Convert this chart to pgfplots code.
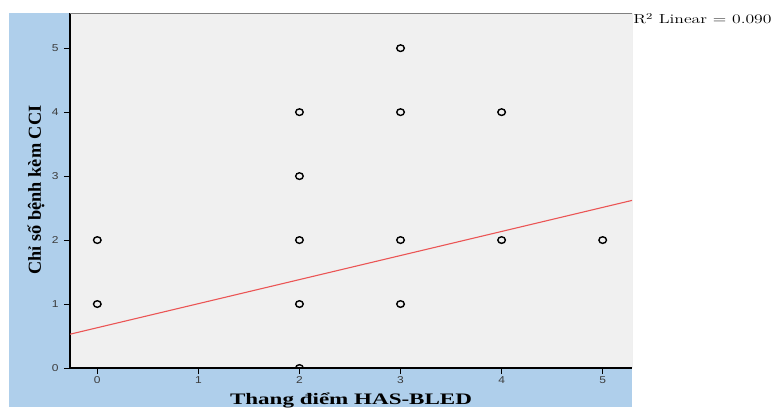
\documentclass[border=0pt]{standalone}
\usepackage{pgfplots}
\pgfplotsset{compat=1.18}
\usepackage{fontspec}
\newfontfamily\arialf{Liberation Sans}
\newfontfamily\timesf{Liberation Serif}
\definecolor{panelblue}{RGB}{175,207,235}
\definecolor{plotgray}{RGB}{240,240,240}
\definecolor{fitred}{RGB}{235,85,85}
\definecolor{ticktext}{RGB}{60,60,60}
\begin{document}
\begin{tikzpicture}[x=1pt,y=1pt]
\useasboundingbox (0,0) rectangle (771,407);
\fill[white] (0,0) rectangle (771,407);
\fill[panelblue] (9,0) rectangle (632,394);
\begin{axis}[at={(70pt,39pt)}, anchor=south west, scale only axis,
  width=562pt, height=355pt,
  xmin=-0.27, xmax=5.29, ymin=0, ymax=5.55,
  axis background/.style={fill=plotgray},
  axis x line*=bottom, axis y line*=left,
  axis line style={-, black, line width=1.2pt},
  xtick={0,1,2,3,4,5}, ytick={0,1,2,3,4,5},
  tick align=outside, major tick length=6pt,
  tick style={black, line width=0.9pt},
  xticklabel style={font=\arialf\fontsize{10}{11}\selectfont, text=ticktext, xscale=1.2, yshift=1pt},
  yticklabel style={font=\arialf\fontsize{10}{11}\selectfont, text=ticktext, xscale=1.2, xshift=-1pt},
  /pgf/number format/assume math mode=true,
  clip marker paths=true,
]
\addplot[fitred, line width=1.1pt] coordinates {(-0.27,0.528) (5.29,2.62)};
\addplot[only marks, mark=o, mark size=3.3pt, mark options={line width=1.4pt, black, xscale=1.15}] coordinates {
  (0,1) (0,2)
  (2,0) (2,1) (2,2) (2,3) (2,4)
  (3,1) (3,2) (3,4) (3,5)
  (4,2) (4,4)
  (5,2)
};
\draw[gray, line width=0.8pt] (rel axis cs:0,1) -- (rel axis cs:1,1) -- (rel axis cs:1,0);
\end{axis}
\node[anchor=west, font=\fontsize{13}{14}\selectfont, inner sep=0pt, xscale=1.36] at (633,388) {R$^2$ Linear = 0.090};
\node[anchor=base, font=\timesf\bfseries\fontsize{16}{18}\selectfont, inner sep=0pt, xscale=1.44] at (351,2) {Thang điểm HAS-BLED};
\node[anchor=center, rotate=90, font=\timesf\bfseries\fontsize{18.3}{20}\selectfont, inner sep=0pt] at (36,217) {Chỉ số bệnh kèm CCI};
\end{tikzpicture}
\end{document}
